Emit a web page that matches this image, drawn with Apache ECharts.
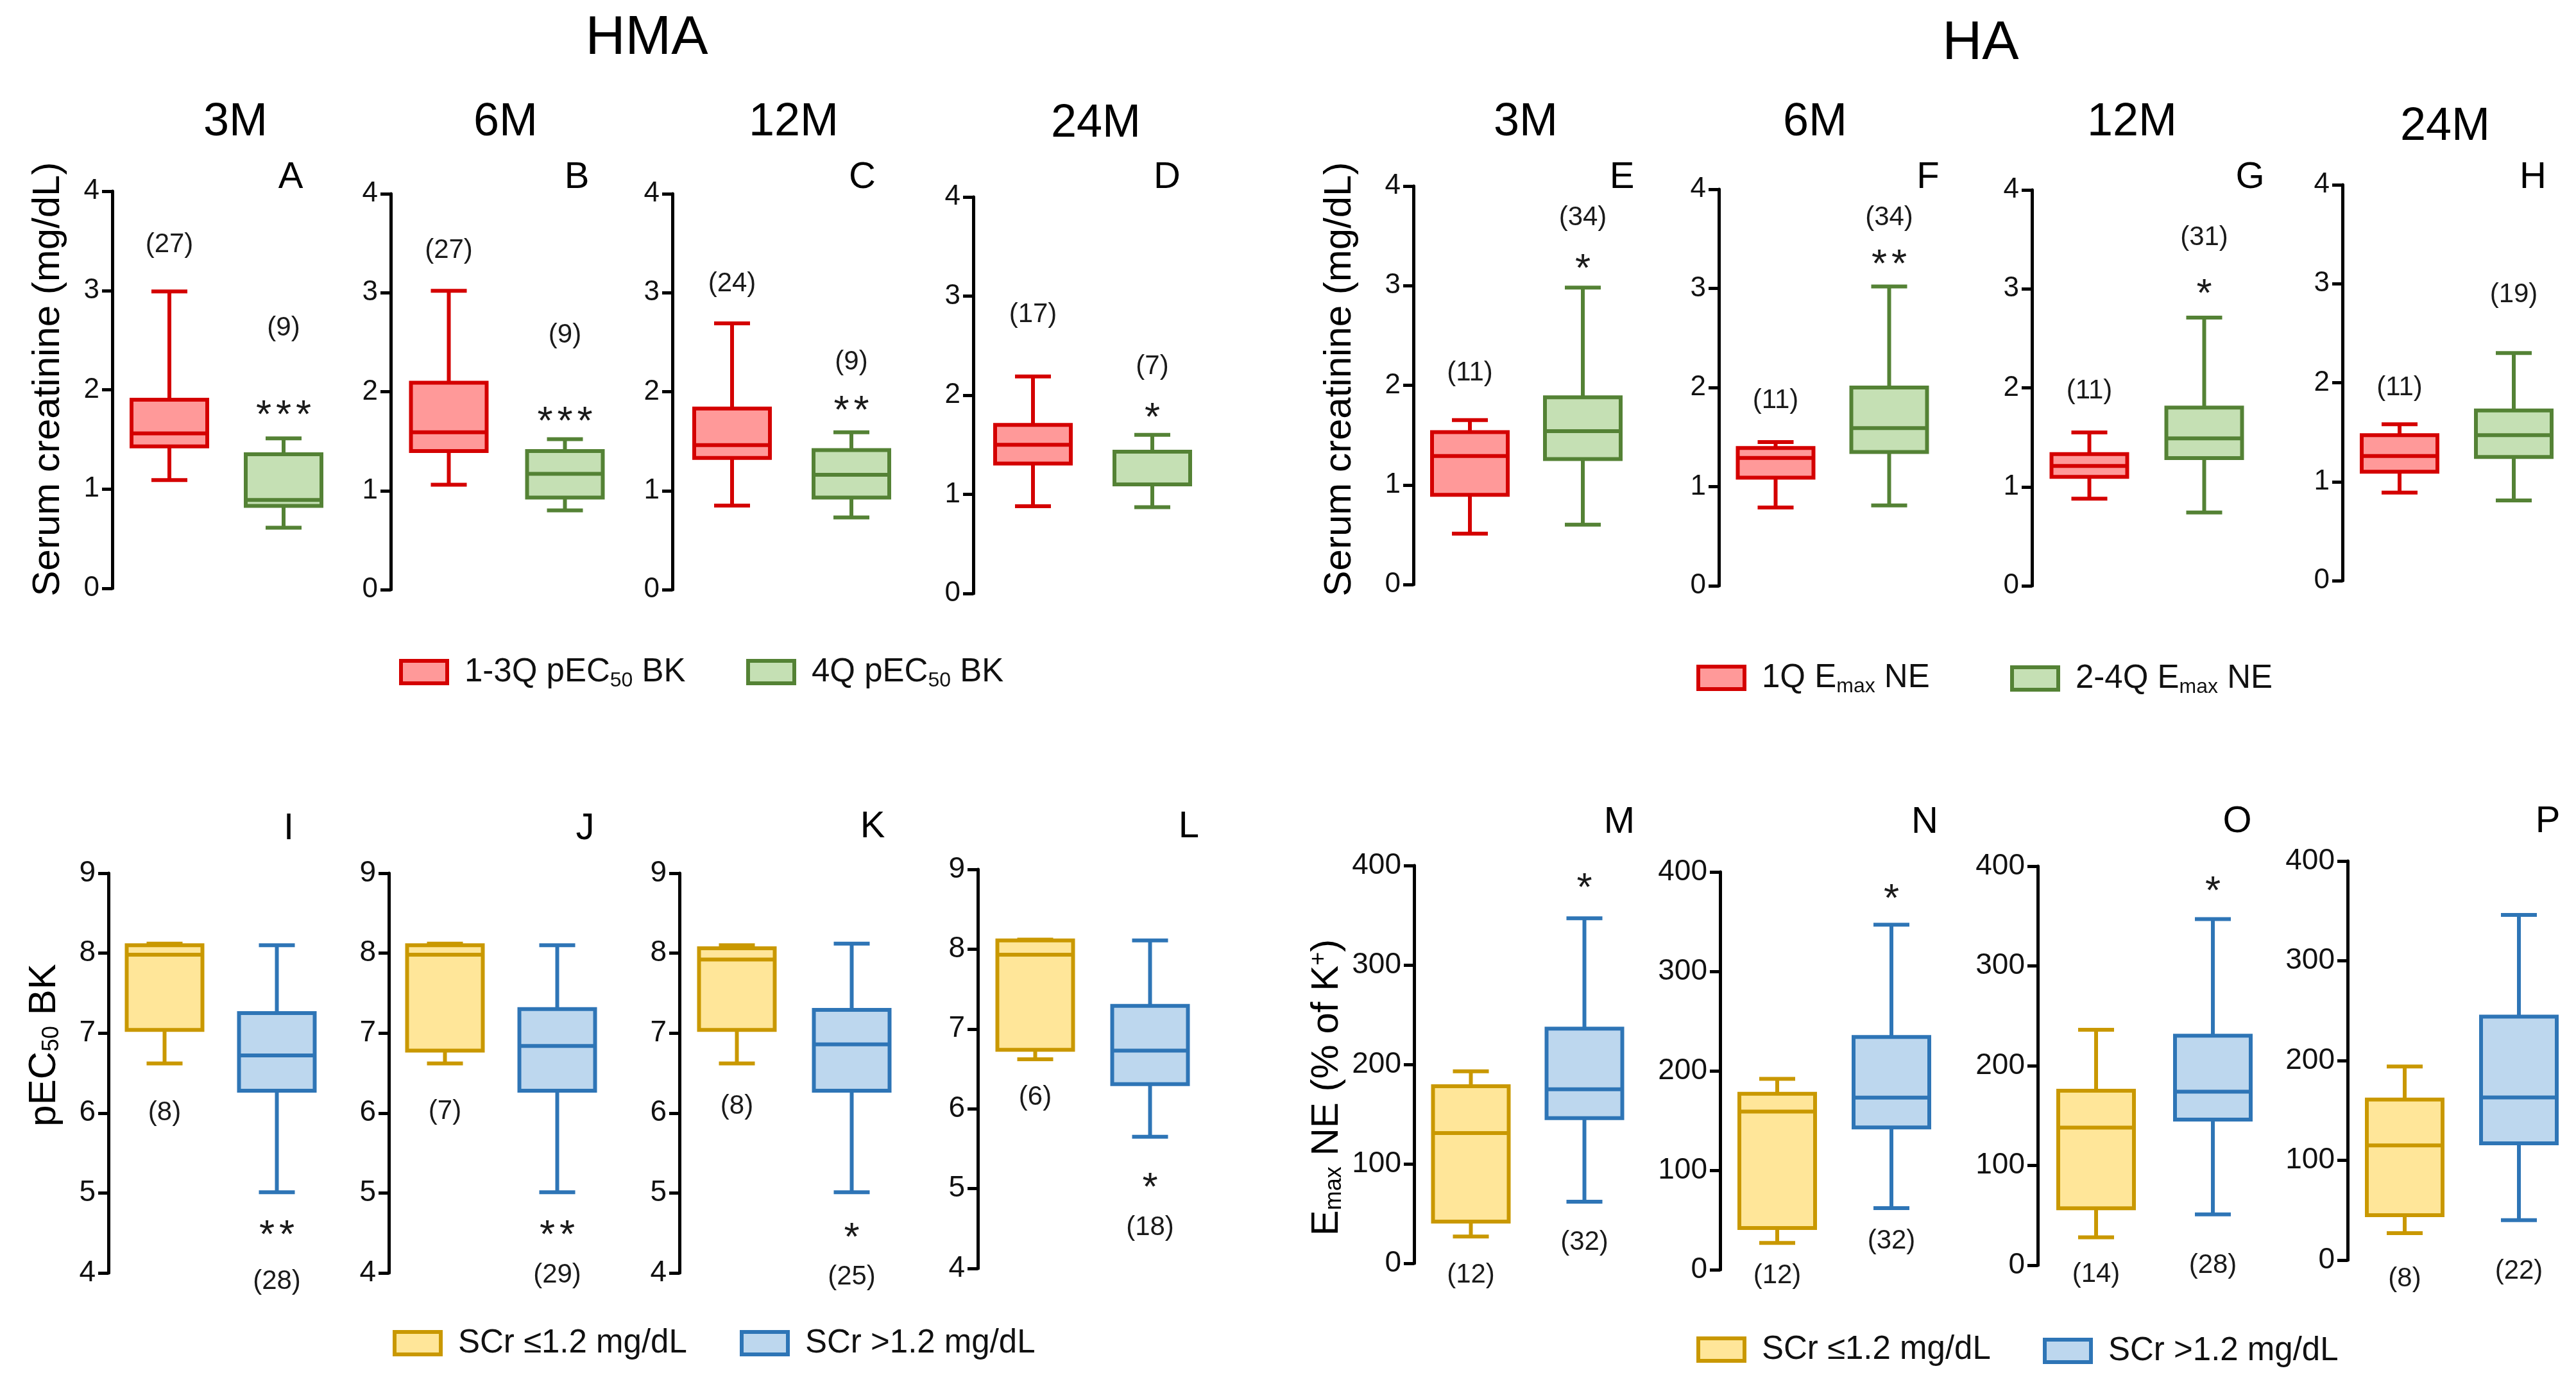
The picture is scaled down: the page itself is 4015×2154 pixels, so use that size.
<!DOCTYPE html>
<html>
<head>
<meta charset="utf-8">
<title>Serum creatinine, pEC50 BK and Emax NE box plots</title>
<script src="https://cdn.jsdelivr.net/npm/echarts@6/dist/echarts.min.js"></script>
<style>
html, body { margin: 0; padding: 0; background: #fff; }
#main { width: 4015px; height: 2154px; }
</style>
</head>
<body>
<div id="main"></div>
<script>
// ---- data: every box is [min, Q1, median, Q3, max] for 3M, 6M, 12M, 24M ----
var periods = ['3M', '6M', '12M', '24M'];
var letters = ['A','B','C','D','E','F','G','H','I','J','K','L','M','N','O','P'];

// HMA, serum creatinine by pEC50 BK quartile
var scrBK13Q = [[1.09,1.43,1.56,1.90,2.99],[1.06,1.40,1.59,2.09,3.02],[0.85,1.33,1.46,1.83,2.69],[0.88,1.31,1.50,1.70,2.19]];
var scrBK4Q  = [[0.61,0.83,0.89,1.35,1.51],[0.80,0.93,1.17,1.40,1.52],[0.73,0.93,1.16,1.41,1.59],[0.87,1.10,1.10,1.43,1.60]];
// HA, serum creatinine by Emax NE quartile
var scrNE1Q  = [[0.51,0.90,1.29,1.53,1.65],[0.79,1.09,1.29,1.39,1.45],[0.88,1.10,1.21,1.33,1.55],[0.89,1.10,1.26,1.47,1.58]];
var scrNE24Q = [[0.60,1.26,1.54,1.88,2.98],[0.81,1.35,1.59,2.00,3.02],[0.74,1.29,1.49,1.80,2.71],[0.81,1.25,1.47,1.72,2.30]];
// HMA, pEC50 BK by SCr
var bkLowSCr  = [[6.62,7.04,7.98,8.10,8.12],[6.62,6.78,7.98,8.10,8.12],[6.62,7.04,7.92,8.06,8.10],[6.62,6.74,7.93,8.11,8.12]];
var bkHighSCr = [[5.01,6.28,6.72,7.25,8.10],[5.01,6.28,6.84,7.30,8.10],[5.01,6.28,6.86,7.29,8.12],[5.65,6.31,6.73,7.29,8.11]];
// HA, Emax NE by SCr
var neLowSCr  = [[27,42,131,178,193],[27,42,159,177,192],[28,57,138,175,236],[27,45,115,161,194]];
var neHighSCr = [[62,146,175,236,347],[62,143,173,234,347],[51,146,174,230,347],[40,117,163,244,346]];

// group sizes and where they are written (in axis units)
var nBK13Q = [27,27,24,17], nBK4Q = [9,9,9,7];
var nYBK13Q = [3.46,3.43,3.09,2.81], nYBK4Q = [2.62,2.57,2.30,2.29];
var nNE1Q = [11,11,11,11], nNE24Q = [34,34,31,19];
var nYNE1Q = [2.12,1.87,1.97,1.95], nYNE24Q = [3.68,3.71,3.52,2.89];
var nBKLow = [8,7,8,6], nBKHigh = [28,29,25,18];
var nYBKLow = [6.00,6.02,6.08,6.14], nYBKHigh = [3.89,3.97,3.95,4.51];
var nNELow = [12,12,14,8], nNEHigh = [32,32,28,22];
var nYNELow = [-12,-6,-9,-19], nYNEHigh = [21,29,0,-11];

// significance marks on the second group
var starsBK = ['***','***','**','*'], starYBK = [1.82,1.78,1.89,1.85];
var starsNE = ['*','**','*',''], starYNE = [3.25,3.32,3.03,null];
var starsBKSCr = ['**','**','*','*'], starYBKSCr = [4.57,4.57,4.54,5.11];
var starsNESCr = ['*','*','*',''], starYNESCr = [385,381,383,null];

// ---- layout (pixels) ----
var FONT = '"Liberation Sans", Arial, Helvetica, sans-serif';
var RED = { line: '#D40000', fill: '#FF9999' };
var GREEN = { line: '#548235', fill: '#C5E0B4' };
var GOLD = { line: '#C99800', fill: '#FFE699' };
var BLUE = { line: '#2E75B6', fill: '#BDD7EE' };
var LW = 6, AXW = 5, BOX = 118, CAP = 56;

var gridBoxes = [
  [175,298,356,619],[609,302,362,617],[1048,302,372,617],[1517,307,372,618],
  [2203,290,352,621],[2679,295,354,618],[3167,296,358,617],[3651,288,356,617],
  [169,1361,350,623],[606,1361,350,623],[1059,1361,358,623],[1524,1355,358,622],
  [2204,1349,354,620],[2681,1359,356,620],[3176,1350,364,622],[3659,1342,358,622]
];
var periodXY = [[367,191],[788,191],[1237,191],[1708,193],[2378,191],[2829,191],[3323,191],[3811,198]];
var letterXY = [[453,277],[899,277],[1344,277],[1819,277],[2528,277],[3005,277],[3507,277],[3948,277],
  [450,1292],[912,1292],[1360,1289],[1853,1289],[2524,1282],[3000,1282],[3487,1281],[3971,1281]];
// legend icon left, item centre y
var legendXY = [[622,1052],[1163,1052],[2644,1061],[3133,1062],[612,2098],[1153,2098],[2644,2108],[3184,2110]];

var families = [
  { names: ['1-3Q pEC50 BK', '4Q pEC50 BK'], boxes: [scrBK13Q, scrBK4Q], counts: [nBK13Q, nBK4Q],
    countY: [nYBK13Q, nYBK4Q], stars: starsBK, starY: starYBK, colors: [RED, GREEN], range: [0, 4, 1] },
  { names: ['1Q Emax NE', '2-4Q Emax NE'], boxes: [scrNE1Q, scrNE24Q], counts: [nNE1Q, nNE24Q],
    countY: [nYNE1Q, nYNE24Q], stars: starsNE, starY: starYNE, colors: [RED, GREEN], range: [0, 4, 1] },
  { names: ['SCr \u22641.2 mg/dL', 'SCr >1.2 mg/dL'], boxes: [bkLowSCr, bkHighSCr], counts: [nBKLow, nBKHigh],
    countY: [nYBKLow, nYBKHigh], stars: starsBKSCr, starY: starYBKSCr, colors: [GOLD, BLUE], range: [4, 9, 1] },
  { names: ['SCr \u22641.2 mg/dL', 'SCr >1.2 mg/dL'], boxes: [neLowSCr, neHighSCr], counts: [nNELow, nNEHigh],
    countY: [nYNELow, nYNEHigh], stars: starsNESCr, starY: starYNESCr, colors: [GOLD, BLUE], range: [0, 400, 100] }
];

function txt(s, x, y, size) {
  return { text: s, x: x, y: y, fill: '#1a1a1a', fontSize: size, fontFamily: FONT,
    align: 'center', verticalAlign: 'middle', textAlign: 'center', textVerticalAlign: 'middle' };
}

function makeRender(col, count, countY, star, starY) {
  return function (params, api) {
    var x = api.value(0);
    var pHi = api.coord([x, api.value(5)]);
    var pQ3 = api.coord([x, api.value(4)]);
    var pMd = api.coord([x, api.value(3)]);
    var pQ1 = api.coord([x, api.value(2)]);
    var pLo = api.coord([x, api.value(1)]);
    var cx = pHi[0];
    var ls = { stroke: col.line, lineWidth: LW };
    var kids = [
      { type: 'line', shape: { x1: cx, y1: pHi[1], x2: cx, y2: pQ3[1] }, style: ls },
      { type: 'line', shape: { x1: cx, y1: pQ1[1], x2: cx, y2: pLo[1] }, style: ls },
      { type: 'line', shape: { x1: cx - CAP / 2, y1: pHi[1], x2: cx + CAP / 2, y2: pHi[1] }, style: ls },
      { type: 'line', shape: { x1: cx - CAP / 2, y1: pLo[1], x2: cx + CAP / 2, y2: pLo[1] }, style: ls },
      { type: 'rect', shape: { x: cx - BOX / 2, y: pQ3[1], width: BOX, height: pQ1[1] - pQ3[1] },
        style: { fill: col.fill, stroke: col.line, lineWidth: LW } },
      { type: 'line', shape: { x1: cx - BOX / 2, y1: pMd[1], x2: cx + BOX / 2, y2: pMd[1] }, style: ls },
      { type: 'text', style: txt('(' + count + ')', cx, api.coord([x, countY])[1], 42) }
    ];
    if (star) {
      var sy = api.coord([x, starY])[1] + 14;
      for (var k = 0; k < star.length; k++) {
        kids.push({ type: 'text', style: txt('*', cx + (k - (star.length - 1) / 2) * 31, sy, 62) });
      }
    }
    return { type: 'group', children: kids };
  };
}

var grids = [], xAxes = [], yAxes = [], series = [];
families.forEach(function (fam, f) {
  periods.forEach(function (per, k) {
    var p = f * 4 + k;
    var g = gridBoxes[p];
    grids.push({ left: g[0], top: g[1], width: g[2], height: g[3] });
    xAxes.push({ type: 'category', gridIndex: p, data: ['0', '1'], show: false });
    yAxes.push({
      type: 'value', gridIndex: p, min: fam.range[0], max: fam.range[1], interval: fam.range[2],
      axisLine: { show: true, lineStyle: { color: '#000', width: AXW } },
      axisTick: { show: true, length: 16, lineStyle: { color: '#000', width: AXW } },
      axisLabel: { margin: 20, fontSize: f < 2 ? 44 : 46, color: '#111', fontFamily: FONT },
      splitLine: { show: false }
    });
    [0, 1].forEach(function (grp) {
      var col = fam.colors[grp];
      series.push({
        type: 'custom', name: fam.names[grp], xAxisIndex: p, yAxisIndex: p,
        data: [[grp].concat(fam.boxes[grp][k])],
        encode: { x: 0, y: [1, 2, 3, 4, 5] },
        itemStyle: { color: col.fill, borderColor: col.line, borderWidth: LW },
        renderItem: makeRender(col, fam.counts[grp][k], fam.countY[grp][k],
          grp === 1 ? fam.stars[k] : '', fam.starY[k]),
        silent: true
      });
    });
  });
});

function richName(name) {
  if (name.indexOf('pEC50') >= 0) {
    var parts = name.split('pEC50');
    return '{a|' + parts[0] + 'pEC}{s|50}{t|' + parts[1] + '}';
  }
  if (name.indexOf('Emax') >= 0) {
    var q = name.split('Emax');
    return '{a|' + q[0] + 'E}{s|max}{t|' + q[1] + '}';
  }
  return '{a|' + name + '}';
}

var legends = legendXY.map(function (pos, i) {
  var fam = families[Math.floor(i / 2)], grp = i % 2, col = fam.colors[grp];
  return {
    left: pos[0], top: pos[1] - 30, padding: 0, itemWidth: 72, itemHeight: 35, selectedMode: false,
    data: [{ name: fam.names[grp], icon: 'rect',
      itemStyle: { color: col.fill, borderColor: col.line, borderWidth: LW } }],
    formatter: richName,
    textStyle: {
      fontFamily: FONT, fontSize: 51, color: '#111',
      rich: {
        a: { fontFamily: FONT, fontSize: 51, color: '#111', lineHeight: 60, padding: [0, 0, 0, 22] },
        t: { fontFamily: FONT, fontSize: 51, color: '#111', lineHeight: 60 },
        s: { fontFamily: FONT, fontSize: 32, color: '#111', verticalAlign: 'bottom' }
      }
    }
  };
});

var graphics = [];
function addText(s, x, y, size) {
  graphics.push({ type: 'text', x: x, y: y, silent: true,
    style: { text: s, x: 0, y: 0, fill: '#000', fontSize: size, fontFamily: FONT,
      align: 'center', verticalAlign: 'middle', textAlign: 'center', textVerticalAlign: 'middle' } });
}
addText('HMA', 1008, 60, 86);
addText('HA', 3087, 68, 86);
periodXY.forEach(function (xy, i) { addText(periods[i % 4], xy[0], xy[1], 72); });
letterXY.forEach(function (xy, i) { addText(letters[i], xy[0], xy[1], 58); });

var axisRich = {
  t: { fontFamily: FONT, fontSize: 60, fill: '#000', color: '#000' },
  s: { fontFamily: FONT, fontSize: 36, fill: '#000', color: '#000', verticalAlign: 'bottom' },
  p: { fontFamily: FONT, fontSize: 36, fill: '#000', color: '#000', verticalAlign: 'top' }
};
function addAxisTitle(s, x, y) {
  graphics.push({ type: 'text', x: x, y: y, rotation: Math.PI / 2, silent: true,
    style: { text: s, x: 0, y: 0, fill: '#000', fontSize: 60, fontFamily: FONT, rich: axisRich,
      align: 'center', verticalAlign: 'middle', textAlign: 'center', textVerticalAlign: 'middle' } });
}
addAxisTitle('{t|Serum creatinine (mg/dL)}', 75, 591);
addAxisTitle('{t|Serum creatinine (mg/dL)}', 2088, 591);
addAxisTitle('{t|pEC}{s|50}{t| BK}', 69, 1629);
addAxisTitle('{t|E}{s|max}{t| NE (% of K}{p|+}{t|)}', 2068, 1695);

var chart = echarts.init(document.getElementById('main'));
chart.setOption({
  backgroundColor: '#fff',
  animation: false,
  grid: grids,
  xAxis: xAxes,
  yAxis: yAxes,
  legend: legends,
  graphic: graphics,
  series: series
});
</script>
</body>
</html>
